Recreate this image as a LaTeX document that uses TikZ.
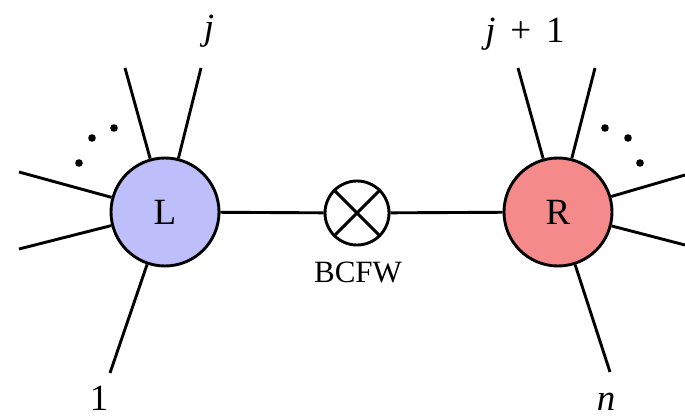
\documentclass[tikz,border=0pt]{standalone}
\usepackage{fontspec}
\setmainfont{Liberation Serif}
\begin{document}
\begin{tikzpicture}[x=1pt,y=-1pt,
  leg/.style={line width=2.9pt},
  blob/.style={circle,draw,line width=2.9pt,inner sep=0pt,minimum size=108pt,font=\fontsize{37}{37}\selectfont},
  shiftop/.style={circle,draw,line width=2.9pt,inner sep=0pt,minimum size=64pt},
  lab/.style={font=\fontsize{37}{37}\selectfont,inner sep=0pt},
  dotmark/.style={fill=black}]
\definecolor{lfill}{RGB}{190,190,250}
\definecolor{rfill}{RGB}{245,138,138}
\useasboundingbox (0,0) rectangle (685,417);

% the two sub-amplitudes and the BCFW shift between them
\node[blob,fill=lfill] (L) at (165,212) {L};
\node[blob,fill=rfill] (R) at (558,212) {R};
\node[shiftop] (X) at (357,213) {};
\draw[leg] (X.45) -- (X.225) (X.135) -- (X.315);
\node[font=\fontsize{31}{31}\selectfont,inner sep=0pt] (xl) at (358,272) {BCFW};

\draw[leg] (L) -- (X);
\draw[leg] (X) -- (R);

% external legs of L
\coordinate (la) at (125,68);
\coordinate (lj) at (201,68);
\coordinate (lb) at (19,172);
\coordinate (lc) at (19,249);
\coordinate (l1) at (110,373);
\foreach \e in {la,lj,lb,lc,l1} \draw[leg] (L) -- (\e);
\node[lab] (tj) at (209,31) {\textit{j}};
\node[lab,anchor=base] (t1) at (99,410) {1};
\fill[dotmark] (79,163) circle (3.8) (92,138) circle (3.8) (114,128) circle (3.8);

% external legs of R
\coordinate (ra) at (518,68);
\coordinate (rb) at (595,68);
\coordinate (rc) at (685,175);
\coordinate (rd) at (685,245);
\coordinate (rn) at (610,372);
\foreach \e in {ra,rb,rc,rd,rn} \draw[leg] (R) -- (\e);
\node[lab] (tj1) at (525,34) {\textit{j}\hspace{0.4em}+\hspace{0.4em}1};
\node[lab,anchor=base] (tn) at (606,410) {\textit{n}};
\fill[dotmark] (605,128) circle (3.8) (628,138) circle (3.8) (640,163) circle (3.8);
\end{tikzpicture}
\end{document}
